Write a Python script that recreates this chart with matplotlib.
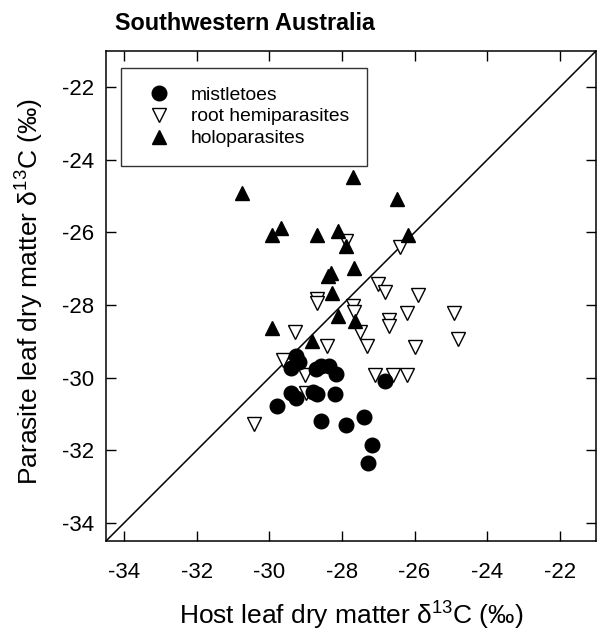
import numpy as np
import matplotlib
matplotlib.use('Agg')
import matplotlib.pyplot as plt

plt.rcParams['font.family'] = ['Liberation Sans', 'DejaVu Sans']
plt.rcParams['mathtext.fontset'] = 'custom'
plt.rcParams['mathtext.rm'] = 'Liberation Sans'
plt.rcParams['mathtext.it'] = 'Liberation Sans:italic'
plt.rcParams['axes.unicode_minus'] = False

# host vs parasite leaf d13C values
mistletoe_host = [-29.39, -29.26, -29.18, -28.71, -28.57, -28.36, -28.17, -26.80, -29.39, -29.27,
                  -28.80, -28.68, -28.19, -29.79, -28.59, -27.90, -27.39, -27.17, -27.28]
mistletoe_para = [-29.72, -29.40, -29.57, -29.75, -29.68, -29.68, -29.91, -30.09, -30.41, -30.55,
                  -30.40, -30.46, -30.44, -30.78, -31.20, -31.31, -31.09, -31.86, -32.35]

root_host = [-27.88, -26.41, -27.01, -26.80, -25.91, -28.70, -28.68, -27.70, -27.68, -26.21,
             -24.90, -26.71, -26.69, -29.30, -27.51, -28.40, -27.31, -26.00, -24.81, -29.62,
             -29.03, -29.00, -27.10, -26.60, -26.21, -30.42]
root_para = [-26.23, -26.41, -27.43, -27.64, -27.73, -27.82, -27.95, -28.02, -28.19, -28.23,
             -28.23, -28.41, -28.59, -28.74, -28.74, -29.13, -29.13, -29.15, -28.93, -29.51,
             -29.94, -30.41, -29.94, -29.94, -29.94, -31.29]

holo_host = [-30.74, -27.70, -26.49, -29.92, -29.67, -28.70, -28.10, -27.90, -26.18, -27.68,
             -28.38, -28.29, -28.28, -28.10, -27.65, -29.92, -28.82]
holo_para = [-24.90, -24.46, -25.08, -26.07, -25.87, -26.07, -25.97, -26.37, -26.07, -26.97,
             -27.20, -27.11, -27.68, -28.30, -28.44, -28.62, -28.99]

ticks = [-34, -32, -30, -28, -26, -24, -22]
lims = (-34.5, -21)

fig = plt.figure(figsize=(5.98, 6.35), dpi=100)
ax = fig.add_axes([106 / 598, 1 - 541 / 635, 490 / 598, 490 / 635])

# 1:1 line
ax.plot(lims, lims, color='black', lw=1.1, zorder=1)

h_root, = ax.plot(root_host, root_para, 'v', ms=9.5, mfc='white', mec='black', mew=1.0,
                  ls='none', label='root hemiparasites', zorder=2)
h_holo, = ax.plot(holo_host, holo_para, '^', ms=9.5, mfc='black', mec='black', mew=1.0,
                  ls='none', label='holoparasites', zorder=3)
h_mist, = ax.plot(mistletoe_host, mistletoe_para, 'o', ms=10.5, mfc='black', mec='black',
                  ls='none', label='mistletoes', zorder=4)

ax.set_xlim(lims)
ax.set_ylim(lims)
ax.set_xticks(ticks)
ax.set_yticks(ticks)
ax.tick_params(direction='in', length=7.5, width=1.0, top=True, right=True, labelsize=16)
ax.tick_params(axis='x', pad=15)
ax.tick_params(axis='y', pad=8.5)
for s in ax.spines.values():
    s.set_linewidth(1.1)

leg = ax.legend(handles=[h_mist, h_root, h_holo], loc='upper left',
                bbox_to_anchor=(0.031, 0.966), borderaxespad=0, fontsize=13.9,
                frameon=True, fancybox=False, edgecolor='black', borderpad=0.95,
                handlelength=1.97, handletextpad=0.69, labelspacing=0.23)
leg.get_frame().set_linewidth(1.0)

fig.text(115 / 598, 1 - 29.5 / 635, 'Southwestern Australia', fontsize=16.8,
         fontweight='bold', ha='left', va='baseline')
fig.text(351.5 / 598, 1 - 625 / 635, 'Host leaf dry matter δ$^{13}$C (‰)', fontsize=19,
         ha='center', va='baseline')
fig.text(38.5 / 598, 1 - 291.5 / 635, 'Parasite leaf dry matter δ$^{13}$C (‰)', fontsize=19,
         ha='center', va='baseline', rotation=90, rotation_mode='anchor')

fig.savefig('out.png', dpi=100)
